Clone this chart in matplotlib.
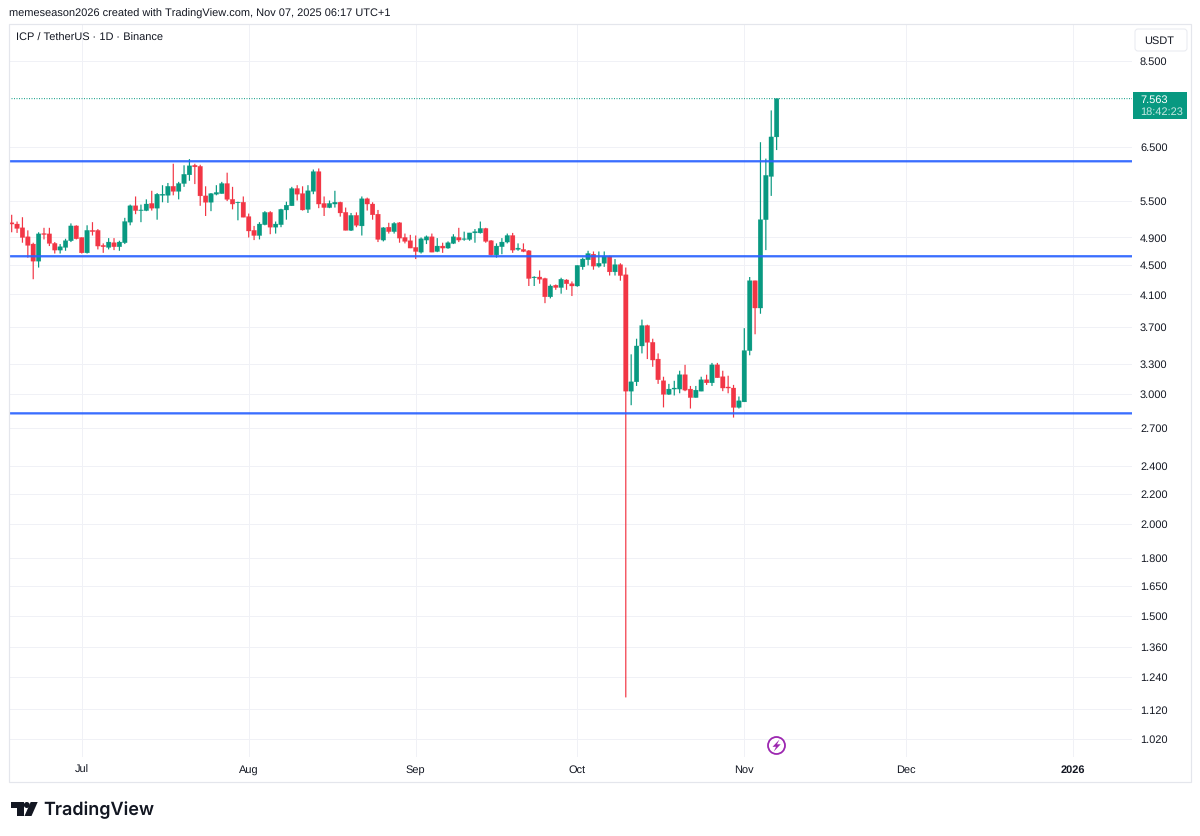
import matplotlib
matplotlib.use("Agg")
import matplotlib.pyplot as plt
import matplotlib.dates as mdates
import numpy as np
import pandas as pd
from matplotlib.patches import Rectangle, FancyBboxPatch, Circle, Polygon

plt.rcParams['font.family'] = ['Liberation Sans', 'DejaVu Sans']
plt.rcParams['text.hinting'] = 'no_hinting'
plt.rcParams['text.hinting_factor'] = 1

first_day = '2025-06-18'
opens = [5.13,5.11,5.05,4.91,4.80,4.55,4.96,4.955,4.81,4.71,4.75,4.85,5.08,4.90,4.67,5.01,5.01,4.78,4.75,4.82,4.76,4.82,5.14,5.41,5.33,5.33,5.45,5.37,5.59,5.59,
         5.75,5.66,5.80,5.96,6.14,6.12,5.58,5.47,5.61,5.62,5.80,5.52,5.46,5.47,5.23,5.01,4.93,5.10,5.30,5.06,5.10,5.34,5.41,5.71,5.62,5.35,5.66,6.02,5.45,5.38,
         5.44,5.47,5.30,5.01,5.25,5.08,5.53,5.44,5.27,4.86,5.06,4.99,5.13,4.90,4.85,4.75,4.68,4.86,4.91,4.69,4.77,4.74,4.81,4.90,4.87,4.87,4.97,4.97,5.04,4.85,
         4.64,4.76,4.83,4.93,4.72,4.72,4.70,4.32,4.33,4.31,4.07,4.22,4.19,4.29,4.24,4.21,4.47,4.57,4.65,4.48,4.52,4.62,4.40,4.50,4.36,3.03,3.12,3.49,3.72,3.53,
         3.35,3.13,3.00,3.05,3.05,3.19,3.05,2.97,3.03,3.14,3.11,3.29,3.17,3.07,3.06,2.88,2.93,3.44,4.28,3.93,5.18,5.93,6.71]
highs = [5.26,5.15,5.22,5.01,4.82,4.98,5.05,5.05,4.83,4.80,4.88,5.12,5.09,4.90,5.09,5.14,5.03,4.81,4.89,4.89,4.85,5.21,5.43,5.57,5.43,5.52,5.67,5.63,5.77,5.81,
         6.17,5.83,6.14,6.26,6.17,6.15,5.75,5.63,5.77,5.83,6.00,5.74,5.48,5.57,5.28,5.08,5.14,5.32,5.32,5.15,5.36,5.48,5.74,5.77,5.75,5.77,6.06,6.08,5.57,5.50,
         5.67,5.48,5.38,5.29,5.30,5.57,5.55,5.47,5.34,5.06,5.13,5.14,5.14,4.96,4.94,4.93,4.90,4.93,4.96,4.89,4.82,4.84,4.95,5.05,4.99,4.97,5.03,5.15,5.05,4.86,
         4.81,4.89,4.96,4.97,4.81,4.81,4.71,4.34,4.42,4.32,4.23,4.23,4.32,4.30,4.27,4.49,4.60,4.70,4.69,4.69,4.69,4.63,4.58,4.52,4.46,3.40,3.57,3.79,3.73,3.57,
         3.41,3.17,3.10,3.13,3.23,3.29,3.08,3.08,3.17,3.19,3.31,3.31,3.23,3.18,3.09,2.98,3.69,4.33,4.28,6.60,6.27,7.29,7.563]
lows = [4.98,4.97,4.82,4.60,4.30,4.46,4.87,4.77,4.66,4.66,4.70,4.83,4.87,4.66,4.66,4.93,4.72,4.67,4.72,4.71,4.70,4.80,5.09,5.27,5.14,5.32,5.33,5.18,5.47,5.46,
        5.59,5.52,5.74,5.85,5.79,5.41,5.24,5.32,5.59,5.62,5.49,5.35,5.17,5.22,4.90,4.86,4.87,5.09,4.95,4.96,5.06,5.18,5.41,5.50,5.33,5.29,5.61,5.37,5.24,5.37,
        5.38,5.23,5.01,5.00,5.06,4.93,5.33,5.18,4.83,4.84,4.96,4.96,4.82,4.81,4.74,4.58,4.66,4.80,4.68,4.68,4.67,4.73,4.80,4.83,4.85,4.85,4.82,4.96,4.82,4.63,
        4.60,4.65,4.81,4.67,4.70,4.68,4.21,4.21,4.24,3.99,4.05,4.16,4.11,4.16,4.08,4.20,4.43,4.49,4.43,4.46,4.47,4.35,4.35,4.28,1.163,2.90,3.08,3.41,3.35,3.27,
        3.10,2.88,2.995,2.99,3.01,3.03,2.87,2.97,3.03,3.09,3.08,3.16,3.03,3.01,2.79,2.87,2.93,3.39,3.62,3.86,4.71,5.58,6.44]
closes = [5.11,5.04,4.90,4.78,4.55,4.955,4.945,4.81,4.71,4.76,4.85,5.08,4.88,4.67,5.01,4.99,4.77,4.76,4.83,4.76,4.83,5.15,5.41,5.33,5.34,5.44,5.37,5.61,5.61,5.75,
          5.66,5.80,5.97,6.13,6.11,5.58,5.47,5.62,5.64,5.80,5.52,5.44,5.47,5.22,5.00,4.93,5.11,5.30,5.06,5.11,5.35,5.42,5.71,5.61,5.34,5.67,6.02,5.44,5.38,5.45,
          5.47,5.29,5.01,5.25,5.09,5.53,5.44,5.26,4.87,5.05,4.99,5.12,4.89,4.84,4.74,4.69,4.88,4.91,4.68,4.77,4.74,4.82,4.91,4.86,4.88,4.97,4.99,5.04,4.84,4.64,
          4.77,4.83,4.93,4.71,4.74,4.69,4.31,4.33,4.30,4.07,4.21,4.19,4.30,4.24,4.21,4.49,4.58,4.66,4.48,4.52,4.62,4.40,4.50,4.35,3.03,3.12,3.49,3.72,3.53,3.34,
          3.14,3.00,3.05,3.06,3.19,3.04,2.97,3.04,3.14,3.11,3.29,3.16,3.06,3.06,2.88,2.94,3.44,4.28,3.93,5.18,5.95,6.71,7.563]
levels = [6.218, 4.62, 2.827]
last_price = 7.563
price_ticks = [8.5,6.5,5.5,4.9,4.5,4.1,3.7,3.3,3.0,2.7,2.4,2.2,2.0,1.8,1.65,1.5,1.36,1.24,1.12,1.02]
month_ticks = ['2025-07-01','2025-08-01','2025-09-01','2025-10-01','2025-11-01','2025-12-01','2026-01-01']
month_labels = ['Jul','Aug','Sep','Oct','Nov','Dec','2026']

UP = '#089981'; DOWN = '#f23645'; GRID = '#f0f1f6'; BORDER = '#e4e6ec'; TXT = '#131722'; LINE = '#2962ff'
W, H = 1200, 836
PX = 72 / 100
FS = 11.3 * PX

fig = plt.figure(figsize=(W/100, H/100), dpi=100, facecolor='white')
L, R, T, B = 9, 1132, 24, 757
ax = fig.add_axes([L/W, 1-B/H, (R-L)/W, (B-T)/H])
ax.set_yscale('log')

dates = pd.date_range(first_day, periods=len(opens), freq='D')
x = mdates.date2num(dates)
o, h, l, c = map(np.array, (opens, highs, lows, closes))
cols = [UP if ci >= oi else DOWN for oi, ci in zip(o, c)]

wicks = ax.vlines(x, l, h, colors=cols, lw=1.2*PX, zorder=3)
wicks.set_snap(False)
bars = ax.bar(x, np.abs(c-o), bottom=np.minimum(o, c), width=0.84, color=cols, edgecolor=cols, linewidth=0.2, zorder=4)
for b in bars:
    b.set_snap(False)
for lv in levels:
    ax.axhline(lv, color=LINE, lw=2.3*PX, alpha=0.92, zorder=5, snap=False)
ax.axhline(last_price, color=UP, lw=1*PX, ls=(0, (1, 1.5)), zorder=2, snap=False)

jul1 = mdates.date2num(pd.Timestamp('2025-07-01'))
ppd = 5.387
ax.set_xlim(jul1 + (L-81.7)/ppd, jul1 + (R-81.7)/ppd)
ppl = 319.8
ax.set_ylim(8.5*np.exp(-(B-61.3)/ppl), 8.5*np.exp((61.3-T)/ppl))

ax.set_yticks(price_ticks)
ax.set_yticklabels([f'{v:.3f}' for v in price_ticks])
ax.yaxis.set_minor_locator(matplotlib.ticker.NullLocator())
ax.yaxis.tick_right()
ax.tick_params(axis='y', length=0, pad=8*PX, labelsize=FS, labelcolor=TXT)
ax.set_xticks(mdates.date2num(pd.to_datetime(month_ticks)))
ax.set_xticklabels(month_labels)
ax.tick_params(axis='x', length=0, pad=7.5*PX, labelsize=FS, labelcolor=TXT)
ax.get_xticklabels()[-1].set_fontweight('bold')
ax.grid(True, color=GRID, lw=1*PX, zorder=0)
ax.set_axisbelow(True)
for s in ax.spines.values():
    s.set_visible(False)

# page furniture, in pixel coordinates of the figure
ov = fig.add_axes([0, 0, 1, 1], facecolor='none')
ov.set_xlim(0, W); ov.set_ylim(H, 0); ov.axis('off')
ov.add_patch(Rectangle((8.5, 23.5), 1182, 758, fill=False, ec=BORDER, lw=1.2*PX))
ov.text(9, 14, 'memeseason2026 created with TradingView.com, Nov 07, 2025 06:17 UTC+1',
        fontsize=FS, color=TXT, va='center', ha='left')
ov.text(16, 38.5, 'ICP / TetherUS · 1D · Binance', fontsize=FS, color=TXT, va='center', ha='left')
ov.add_patch(FancyBboxPatch((1138, 32), 46, 16, boxstyle='round,pad=3,rounding_size=3',
                            fc='white', ec='#e8eaf0', lw=1*PX))
ov.text(1144, 41, 'USDT', fontsize=FS, color=TXT, va='center', ha='left')
ov.add_patch(Rectangle((1133, 92), 54, 27, fc=UP, ec='none'))
ov.text(1140, 100, '7.563', fontsize=FS, color='white', va='center', ha='left')
ov.text(1140, 112.5, '18:42:23', fontsize=FS, color='#c5e8e2', va='center', ha='left')

# session marker
ov.add_patch(Circle((776.5, 745.5), 8.5, fc='white', ec='#9c27b0', lw=1.8*PX))
ov.add_patch(Polygon([(779.5, 739.5), (772.5, 746.8), (776, 746.8), (773.8, 751.5), (780.7, 744.3), (777, 744.3)],
                     fc='#9c27b0', ec='none'))

# logo
ov.add_patch(Polygon([(11, 802), (23.5, 802), (23.5, 816), (17, 816), (17, 808), (11, 808)], fc=TXT, ec='none'))
ov.add_patch(Circle((26.8, 805), 3, fc=TXT, ec='none'))
ov.add_patch(Polygon([(37.7, 802), (31.5, 816), (24.5, 816), (30.7, 802)], fc=TXT, ec='none'))
ov.text(43, 810.5, 'TradingView', fontsize=18*PX, color=TXT, va='center', ha='left',
        family=['Inter', 'DejaVu Sans'], fontweight='semibold')

fig.savefig('out.png', dpi=100, facecolor='white')
